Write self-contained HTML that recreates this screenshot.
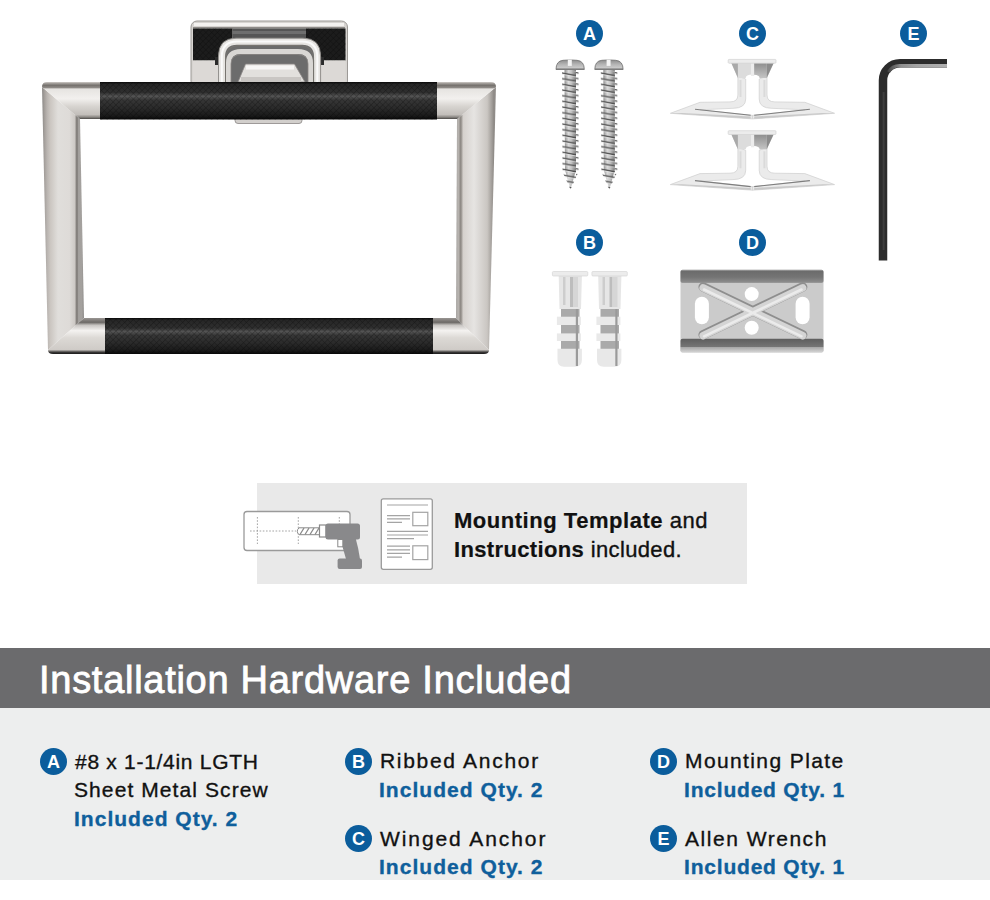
<!DOCTYPE html>
<html><head><meta charset="utf-8">
<style>
html,body{margin:0;padding:0;background:#fff;}
body{width:990px;height:900px;position:relative;overflow:hidden;font-family:"Liberation Sans",sans-serif;}
.abs{position:absolute;}
.badge{position:absolute;width:27px;height:27px;border-radius:50%;background:#0b5d9c;color:#fff;font-weight:700;font-size:18px;line-height:29px;text-align:center;}
.t{position:absolute;white-space:pre;line-height:1;-webkit-text-stroke:0.35px currentColor;}
.t b{-webkit-text-stroke:0.2px currentColor;}
#bar{position:absolute;left:0;top:648px;width:990px;height:60px;background:#6b6b6d;}
#panel{position:absolute;left:0;top:708px;width:990px;height:172px;background:#edeeee;}
#tpl{position:absolute;left:257px;top:483px;width:490px;height:101px;background:#e9e9e9;}
.blue{color:#0f5f9c;font-weight:700;}
</style></head><body>


<div id="tpl"></div>
<svg class="abs" style="left:0;top:0" width="990" height="640" viewBox="0 0 990 640">
<defs>
  <pattern id="knurl" width="4.1" height="4.1" patternUnits="userSpaceOnUse" patternTransform="rotate(45)">
    <rect width="4.1" height="4.1" fill="none"/>
    <path d="M0 0H4.1M0 0V4.1" stroke="#000" stroke-opacity="0.4" stroke-width="1"/>
  </pattern>
  <linearGradient id="sleeveV" x1="0" y1="0" x2="0" y2="1">
    <stop offset="0" stop-color="#0a0a0a"/>
    <stop offset="0.06" stop-color="#262626"/>
    <stop offset="0.28" stop-color="#2f2f2f"/>
    <stop offset="0.38" stop-color="#555555"/>
    <stop offset="0.48" stop-color="#363636"/>
    <stop offset="0.7" stop-color="#2a2a2a"/>
    <stop offset="0.9" stop-color="#1a1a1a"/>
    <stop offset="1" stop-color="#080808"/>
  </linearGradient>
  <linearGradient id="chromeTop" x1="0" y1="0" x2="0" y2="1">
    <stop offset="0" stop-color="#cfcbc7"/>
    <stop offset="0.04" stop-color="#a09c98"/>
    <stop offset="0.09" stop-color="#75716d"/>
    <stop offset="0.15" stop-color="#8e8a86"/>
    <stop offset="0.19" stop-color="#e6e4e1"/>
    <stop offset="0.45" stop-color="#f2f0ee"/>
    <stop offset="0.65" stop-color="#d8d5d1"/>
    <stop offset="0.88" stop-color="#c2beba"/>
    <stop offset="0.95" stop-color="#8a8783"/>
    <stop offset="1" stop-color="#4a4846"/>
  </linearGradient>
  <linearGradient id="chromeBot" x1="0" y1="0" x2="0" y2="1">
    <stop offset="0" stop-color="#9a9693"/>
    <stop offset="0.12" stop-color="#6c6966"/>
    <stop offset="0.2" stop-color="#c8c5c2"/>
    <stop offset="0.35" stop-color="#f4f2f0"/>
    <stop offset="0.55" stop-color="#dcd9d5"/>
    <stop offset="0.88" stop-color="#cfcbc7"/>
    <stop offset="0.95" stop-color="#3a3837"/>
    <stop offset="1" stop-color="#1a1a1a"/>
  </linearGradient>
  <linearGradient id="postL" x1="0" y1="0" x2="1" y2="0">
    <stop offset="0" stop-color="#8a8886"/>
    <stop offset="0.06" stop-color="#a5a09c"/>
    <stop offset="0.12" stop-color="#b9b4b0"/>
    <stop offset="0.2" stop-color="#cbc6c1"/>
    <stop offset="0.38" stop-color="#e0dedb"/>
    <stop offset="0.65" stop-color="#dedbd8"/>
    <stop offset="0.78" stop-color="#cdc9c5"/>
    <stop offset="0.83" stop-color="#77736f"/>
    <stop offset="0.87" stop-color="#a3a09d"/>
    <stop offset="0.95" stop-color="#a4a19e"/>
    <stop offset="1" stop-color="#8c8a88"/>
  </linearGradient>
  <linearGradient id="postR" x1="0" y1="0" x2="1" y2="0">
    <stop offset="0" stop-color="#a8a5a2"/>
    <stop offset="0.06" stop-color="#b8b4b0"/>
    <stop offset="0.12" stop-color="#8a8580"/>
    <stop offset="0.18" stop-color="#d5d1cd"/>
    <stop offset="0.45" stop-color="#e6e4e2"/>
    <stop offset="0.78" stop-color="#cac6c2"/>
    <stop offset="0.9" stop-color="#a09c98"/>
    <stop offset="0.95" stop-color="#8c8884"/>
    <stop offset="1" stop-color="#9a9794"/>
  </linearGradient>
</defs>

<!-- ===== towel ring ===== -->
<g id="ring">
  <!-- mount plate -->
  <rect x="191" y="21" width="156.5" height="66" rx="6" fill="#d7d4d1" stroke="#9c9996" stroke-width="1"/>
  <rect x="194" y="23" width="150" height="3" fill="#f4f2f0"/>
  <rect x="193" y="27" width="152" height="1.5" fill="#8e8b88"/>
  <rect x="193" y="28.5" width="39.5" height="32" fill="#1c1c1c"/>
  <rect x="306" y="28.5" width="39.5" height="32" fill="#1c1c1c"/>
  <rect x="193" y="28.5" width="39.5" height="32" fill="url(#knurl)"/>
  <rect x="306" y="28.5" width="39.5" height="32" fill="url(#knurl)"/>
  <rect x="232.5" y="28.5" width="73.5" height="11" fill="#555555"/>
  <rect x="232.5" y="31" width="73.5" height="3" fill="#6e6e6e"/>
  <rect x="193" y="60.5" width="26" height="22" fill="#dcd9d6"/>
  <rect x="320" y="60.5" width="25.5" height="22" fill="#dcd9d6"/>
  <rect x="215" y="57" width="5" height="8" fill="#2a2a2a"/>
  <rect x="319" y="57" width="5" height="8" fill="#2a2a2a"/>
  <!-- U loop -->
  <path d="M218.5 82 V56 Q218.5 38.2 236 38.2 H303 Q320.6 38.2 320.6 56 V82 Z" fill="#6c6c6c"/>
  <path d="M221.8 82 V57 Q221.8 41.5 237 41.5 H302 Q317.3 41.5 317.3 57 V82" fill="none" stroke="#e6e4e1" stroke-width="6.5"/>
  <path d="M221.8 82 V57 Q221.8 41.5 237 41.5 H302 Q317.3 41.5 317.3 57 V82" fill="none" stroke="#fafafa" stroke-width="2"/>
  <path d="M218.5 82 V56 Q218.5 38.2 236 38.2 H303 Q320.6 38.2 320.6 56 V82" fill="none" stroke="#8f8c89" stroke-width="0.9"/>
  <path d="M225.5 82 V60 Q225.5 45.5 239 45.5 H300 Q313.6 45.5 313.6 60 V82" fill="none" stroke="#77746f" stroke-width="1"/>
  <path d="M228.5 82 V63 Q228.5 51.5 241 51.5 H298 Q310.5 51.5 310.5 63 V82" fill="none" stroke="#d9d7d4" stroke-width="5"/>
  <path d="M231 82 V64 Q231 54.5 242 54.5 H297 Q308 54.5 308 64 V82" fill="none" stroke="#8a8784" stroke-width="0.8"/>
  <path d="M238 82 L245.5 64 H294.5 L305 82 Z" fill="#e2e0dd" stroke="#8a8785" stroke-width="0.8"/>
  <rect x="246" y="65.5" width="48" height="4" fill="#f7f6f5"/>
  <rect x="241" y="77" width="60" height="5" fill="#c9c6c3"/>
  <!-- tab under bar -->
  <rect x="235" y="115" width="67" height="8.5" rx="3" fill="#d2cfcc" stroke="#8a8785" stroke-width="0.8"/>

  <!-- posts -->
  <polygon points="42,87 80,119 84,318 48,350" fill="url(#postL)"/>
  <polygon points="496,87 457,119 456,318 489,350" fill="url(#postR)"/>
  <!-- top chrome ends -->
  <path d="M42 87 Q42 82 47 82 H100 V119 H80 Z" fill="url(#chromeTop)"/>
  <path d="M437 82 H491 Q496 82 496 87 L457 119 H437 Z" fill="url(#chromeTop)"/>
  <!-- bottom chrome ends -->
  <path d="M48 350 L84 318 H105 V354 H53 Q48 354 48 350 Z" fill="url(#chromeBot)"/>
  <path d="M433 318 H456 L489 350 Q489 354 484 354 H433 Z" fill="url(#chromeBot)"/>
  <!-- sleeves -->
  <rect x="100" y="82" width="337" height="37.5" fill="url(#sleeveV)"/>
  <rect x="100" y="82" width="337" height="37.5" fill="url(#knurl)"/>
  <rect x="105" y="318" width="328" height="36" fill="url(#sleeveV)"/>
  <rect x="105" y="318" width="328" height="36" fill="url(#knurl)"/>
</g>

<!-- ===== screws ===== -->
<defs>
  <linearGradient id="screwHead" x1="0" y1="0" x2="0" y2="1">
    <stop offset="0" stop-color="#8c8c8c"/>
    <stop offset="0.45" stop-color="#b4b4b4"/>
    <stop offset="0.8" stop-color="#c8c8c8"/>
    <stop offset="1" stop-color="#707070"/>
  </linearGradient>
  <linearGradient id="shaft" x1="0" y1="0" x2="1" y2="0">
    <stop offset="0" stop-color="#8e8e8e"/>
    <stop offset="0.35" stop-color="#dadada"/>
    <stop offset="0.6" stop-color="#c2c2c2"/>
    <stop offset="1" stop-color="#7a7a7a"/>
  </linearGradient>
  <pattern id="threads" width="16" height="5.66" patternUnits="userSpaceOnUse" y="72">
    <path d="M0 0.6 L16 3.6" stroke="#4e4e4e" stroke-width="1.3" fill="none"/>
    <path d="M0 1.8 L16 4.8" stroke="#e8e8e8" stroke-width="0.7" fill="none"/>
  </pattern>
  <linearGradient id="wrenchHi" gradientUnits="userSpaceOnUse" x1="886" y1="0" x2="947" y2="0"><stop offset="0" stop-color="#3a3a3a"/><stop offset="0.25" stop-color="#8f8f8f"/><stop offset="0.5" stop-color="#a4a4a4"/><stop offset="1" stop-color="#b0b0b0"/></linearGradient>
  <linearGradient id="wingDark" x1="0" y1="0" x2="0" y2="1"><stop offset="0" stop-color="#8e8e8e"/><stop offset="1" stop-color="#c4c4c4"/></linearGradient>
  <linearGradient id="wrenchH" x1="0" y1="0" x2="1" y2="0">
    <stop offset="0" stop-color="#2b2b2b"/>
    <stop offset="0.6" stop-color="#3a3a3a"/>
    <stop offset="1" stop-color="#6a6a6a"/>
  </linearGradient>
  <linearGradient id="flangeTop" x1="0" y1="0" x2="0" y2="1">
    <stop offset="0" stop-color="#a8a8a8"/>
    <stop offset="0.12" stop-color="#6c6c6c"/>
    <stop offset="0.55" stop-color="#747474"/>
    <stop offset="0.9" stop-color="#8a8a8a"/>
    <stop offset="1" stop-color="#a0a0a0"/>
  </linearGradient>
  <linearGradient id="flangeBot" x1="0" y1="0" x2="0" y2="1">
    <stop offset="0" stop-color="#5e5e5e"/>
    <stop offset="0.6" stop-color="#767676"/>
    <stop offset="0.62" stop-color="#a8a8a8"/>
    <stop offset="1" stop-color="#d6d6d6"/>
  </linearGradient>
</defs>
<g id="screw1">
  <path d="M564.5 70 H576 V170 L570.5 189.5 L565 170 Z" fill="url(#shaft)"/>
  <path d="M562 71 H578.5 V172 L570.5 189.5 L562.5 172 Z" fill="url(#threads)"/>
  <path d="M556 69.5 Q556 61 563 60.3 Q570 59.5 577 60.3 Q584.3 61 584.3 69.5 Z" fill="url(#screwHead)" stroke="#6e6e6e" stroke-width="0.8"/>
  <path d="M567.8 59.6 H571.8 V65.9 H567.8 Z" fill="#f4f4f4"/>
</g>
<use href="#screw1" transform="translate(38.8,0)"/>

<!-- ===== winged anchors ===== -->
<g id="wing1">
  <g id="wingL">
    <path d="M737.9 76 V95 Q737.9 101.9 730 101.9 L700 102.3 L670.3 113.3 L752.5 118.9 V115.4 L700 109.8 L733 108.3 Q745.7 108.2 745.7 99 V79 Z" fill="#ebebeb" stroke="#cfcfcf" stroke-width="0.7" stroke-linejoin="round"/>
    <path d="M695 109.3 L750.7 115.3" stroke="#7e7e7e" stroke-width="1.1"/>
    <path d="M682 112.9 L750.7 116.6 V118.8 L670.3 113.3 Z" fill="#c9c9c9"/>
    <path d="M740.5 80 V97" stroke="#dadada" stroke-width="2"/>
  </g>
  <use href="#wingL" transform="translate(1504.9,0) scale(-1,1)"/>
  <path d="M731.3 63 H773.7 L767 78 H759.7 Q759.7 74.5 752.5 74.5 Q745.7 74.5 745.7 78 H737.9 Z" fill="#dcdcdc"/>
  <path d="M731.3 63 H737.9 V78 Z" fill="#a9a9a9"/>
  <path d="M751 63 H754.2 V76 H751 Z" fill="#ececec"/>
  <path d="M754.2 63 H766.7 V78 H759.7 Q759.7 75 754.2 74.7 Z" fill="url(#wingDark)"/>
  <path d="M766.7 63 H773.7 L766.7 78 Z" fill="#8c8c8c"/>
  <rect x="728.2" y="59.4" width="47.8" height="3.8" rx="0.8" fill="#ececec" stroke="#d2d2d2" stroke-width="0.7"/>
</g>
<use href="#wing1" transform="translate(0,71.3)"/>

<!-- ===== allen wrench ===== -->
<path d="M883 260.5 V80.3 A17 17 0 0 1 900 63.3 H947" fill="none" stroke="#2c2c2c" stroke-width="8.5"/>
<path d="M888.5 72 A13 13 0 0 1 900 65.6 H947" fill="none" stroke="url(#wrenchHi)" stroke-width="3.4"/>
<path d="M883.6 250 V92" stroke="#3e3e3e" stroke-width="2"/>

<!-- ===== ribbed anchors ===== -->
<g id="rib1">
  <path d="M558.7 276 H581.9 L581 309 H559.5 Z" fill="#e6e6e6"/>
  <rect x="563" y="277" width="2.5" height="28" fill="#cdcdcd"/>
  <rect x="570" y="277" width="3" height="30" fill="#bdbdbd"/>
  <rect x="573" y="277" width="5" height="30" fill="#d6d6d6"/>
  <rect x="561" y="309" width="18.5" height="40" fill="#aaaaaa"/>
  <rect x="556.9" y="316.7" width="24" height="8.3" fill="#e9e9e9"/>
  <rect x="556.9" y="333.4" width="24" height="7.6" fill="#e9e9e9"/>
  <path d="M557.5 348.8 H581.9 V360 Q581.9 366.7 575 366.7 H564 Q557.5 366.7 557.5 360 Z" fill="#e8e8e8"/>
  <rect x="575.8" y="309" width="2.2" height="57" fill="#9a9a9a"/>
  <rect x="552.4" y="271.5" width="35.4" height="4.5" rx="1" fill="#ececec" stroke="#d2d2d2" stroke-width="0.6"/>
</g>
<use href="#rib1" transform="translate(39.5,0)"/>

<!-- ===== mounting plate ===== -->
<g id="plate">
  <rect x="680.5" y="269.8" width="143" height="82.7" rx="2" fill="#cbcbcb"/>
  <rect x="680.5" y="269.8" width="143" height="13.3" rx="2" fill="url(#flangeTop)"/>
  <rect x="680.5" y="338.7" width="143" height="13.8" rx="2" fill="url(#flangeBot)"/>
  <path d="M703.2 287 L802.6 334.8 M802.6 287 L703.2 334.8" stroke="#8e8e8e" stroke-width="9.5" stroke-linecap="round"/>
  <path d="M703.2 287.8 L802.6 335.6 M802.6 287.8 L703.2 335.6" stroke="#d4d4d4" stroke-width="7.5" stroke-linecap="round"/>
  <path d="M704 289.5 L801.5 336.3 M801.5 289.5 L704 336.3" stroke="#ebebeb" stroke-width="2.5" stroke-linecap="round"/>
  <circle cx="751.7" cy="294.1" r="7" fill="#fff"/>
  <circle cx="751.7" cy="327.8" r="7" fill="#fff"/>
  <rect x="694.9" y="296.8" width="14" height="27.4" rx="7" fill="#fff"/>
  <rect x="795.6" y="296.8" width="14" height="27.4" rx="7" fill="#fff"/>
</g>

<!-- ===== template illustrations ===== -->
<rect x="244" y="511.5" width="106" height="39" rx="3" fill="#fff" stroke="#9a9a9a" stroke-width="1.3"/>
<path d="M257.4 517 V544 M298.3 517 V544 M339.3 517 V544 M250 531 H296" stroke="#9a9a9a" stroke-width="0.9" stroke-dasharray="1.6 1.6"/>
<path d="M299 527.8 H320 V534.7 H299 Q295.5 531.2 299 527.8 Z" fill="#fff" stroke="#8a8a8a" stroke-width="1"/>
<path d="M300 534.5 L304 528 M305 534.5 L309 528 M310 534.5 L314 528 M315 534.5 L319 528" stroke="#8a8a8a" stroke-width="1.3"/>
<rect x="319.5" y="525" width="6.5" height="12" fill="#fff" stroke="#8a8a8a" stroke-width="1.2"/>
<rect x="325.5" y="523.5" width="34.5" height="16" rx="2.5" fill="#89898b"/>
<path d="M342.5 538 H355.6 Q358.5 548 360 559 H346 L342.5 546.8 Z" fill="#89898b"/>
<rect x="337.8" y="539.5" width="5" height="7.3" fill="#fff" stroke="#8a8a8a" stroke-width="1"/>
<rect x="337.6" y="558.5" width="24.4" height="10.5" rx="2" fill="#89898b"/>
<rect x="381.3" y="498.8" width="51" height="70.5" rx="2" fill="#fff" stroke="#9a9a9a" stroke-width="1.3"/>
<g stroke="#a4a4a4" stroke-width="1.2">
  <path d="M387 505 H428"/>
  <path d="M387 515.6 H410 M387 518.9 H410 M387 522.4 H402"/>
  <path d="M387 531.4 H428 M387 535 H428 M387 538.6 H414"/>
  <path d="M387 546.2 H410 M387 549.8 H410 M387 553.4 H410 M387 557.2 H402"/>
</g>
<rect x="412.8" y="512.3" width="15" height="13.4" fill="none" stroke="#a4a4a4" stroke-width="1.2"/>
<rect x="412.8" y="545.8" width="15" height="13.8" fill="none" stroke="#a4a4a4" stroke-width="1.2"/>
</svg>


<div id="bar"></div>
<div id="panel"></div>

<!-- header text -->
<div class="t m" id="h1" style="left:39px;top:661px;font-size:38px;color:#fff;letter-spacing:0.72px;-webkit-text-stroke:0.8px #fff">Installation Hardware Included</div>

<!-- template text -->
<div class="t m" style="left:454px;top:510px;font-size:22px;color:#111;letter-spacing:0.53px"><b>Mounting Template</b> and</div>
<div class="t m" style="left:454px;top:539px;font-size:22px;color:#111;letter-spacing:0.36px"><b>Instructions</b> included.</div>

<!-- list -->
<div class="badge" style="left:40px;top:748px">A</div>
<div class="t m" style="left:75px;top:751px;font-size:21px;color:#111;letter-spacing:0.71px">#8 x 1-1/4in LGTH</div>
<div class="t m" style="left:74px;top:779px;font-size:21px;color:#111;letter-spacing:1.09px">Sheet Metal Screw</div>
<div class="t m blue" style="left:74px;top:808px;font-size:21px;letter-spacing:1.02px">Included Qty. 2</div>

<div class="badge" style="left:345px;top:748px">B</div>
<div class="t m" style="left:380px;top:750px;font-size:21px;color:#111;letter-spacing:1.7px">Ribbed Anchor</div>
<div class="t m blue" style="left:379px;top:779px;font-size:21px;letter-spacing:1.04px">Included Qty. 2</div>

<div class="badge" style="left:345px;top:825px">C</div>
<div class="t m" style="left:380px;top:828px;font-size:21px;color:#111;letter-spacing:1.92px">Winged Anchor</div>
<div class="t m blue" style="left:379px;top:856px;font-size:21px;letter-spacing:1.04px">Included Qty. 2</div>

<div class="badge" style="left:650px;top:748px">D</div>
<div class="t m" style="left:685px;top:750px;font-size:21px;color:#111;letter-spacing:1.39px">Mounting Plate</div>
<div class="t m blue" style="left:684px;top:779px;font-size:21px;letter-spacing:0.8px">Included Qty. 1</div>

<div class="badge" style="left:650px;top:825px">E</div>
<div class="t m" style="left:685px;top:828px;font-size:21px;color:#111;letter-spacing:1.53px">Allen Wrench</div>
<div class="t m blue" style="left:684px;top:856px;font-size:21px;letter-spacing:0.8px">Included Qty. 1</div>

<!-- hardware badges -->
<div class="badge" style="left:576px;top:20px">A</div>
<div class="badge" style="left:739px;top:20px">C</div>
<div class="badge" style="left:900px;top:20px">E</div>
<div class="badge" style="left:576px;top:229px">B</div>
<div class="badge" style="left:739px;top:229px">D</div>

</body></html>
